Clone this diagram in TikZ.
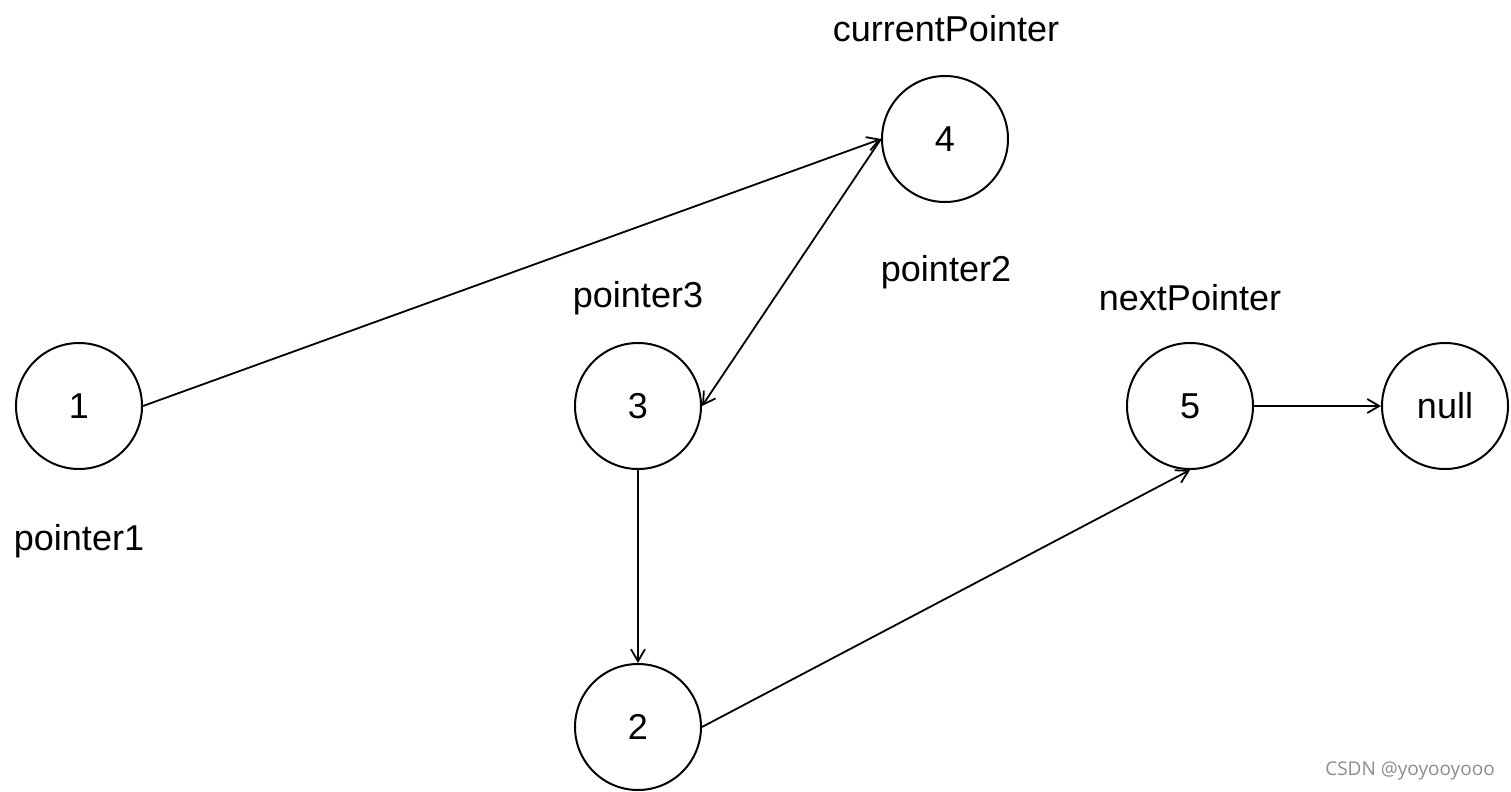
\documentclass[tikz,border=0pt]{standalone}
\usepackage{fontspec}
\setmainfont{Liberation Sans}
\newfontfamily\markfont{Open Sans}
\usetikzlibrary{arrows.meta}
\tikzset{
	listnode/.style={draw, circle, line width=1pt, minimum size=63pt, inner sep=0pt, font=\fontsize{18}{21}\selectfont},
	ptrlabel/.style={font=\fontsize{18}{21}\selectfont},
	link/.style={line width=0.9pt, -{Straight Barb[length=6pt, width=7pt, line width=0.9pt]}}
}
\begin{document}
\begin{tikzpicture}[x=0.5pt, y=-0.5pt]
		\useasboundingbox (0, 0) rectangle (1511, 792);

		\node[listnode] (n1)	at (79, 406) {1};
		\node[listnode] (n4)	at (945, 139) {4};
		\node[listnode] (n3)	at (638, 406) {3};
		\node[listnode] (n2)	at (638, 727) {2};
		\node[listnode] (n5)	at (1190, 406) {5};
		\node[listnode] (null)	at (1445, 406) {null};

		\node[ptrlabel] (cur)	at (946, 29) {currentPointer};
		\node[ptrlabel] (p2)	at (946, 272) {pointer2};
		\node[ptrlabel] (p3)	at (638, 298) {pointer3};
		\node[ptrlabel] (nxt)	at (1190, 298) {nextPointer};
		\node[ptrlabel] (p1)	at (79, 541) {pointer1};

		\draw[link]	(n1.east) to (n4.west);
		\draw[link]	(n4.west) to (n3.east);
		\draw[link]	(n3.south) to (n2.north);
		\draw[link]	(n2.east) to (n5.south);
		\draw[link]	(n5.east) to (null.west);

		\node[text=black!45, font=\markfont\fontsize{9.5}{11}\selectfont] (mark) at (1410, 771) {CSDN @yoyooyooo};
	\end{tikzpicture}
\end{document}
